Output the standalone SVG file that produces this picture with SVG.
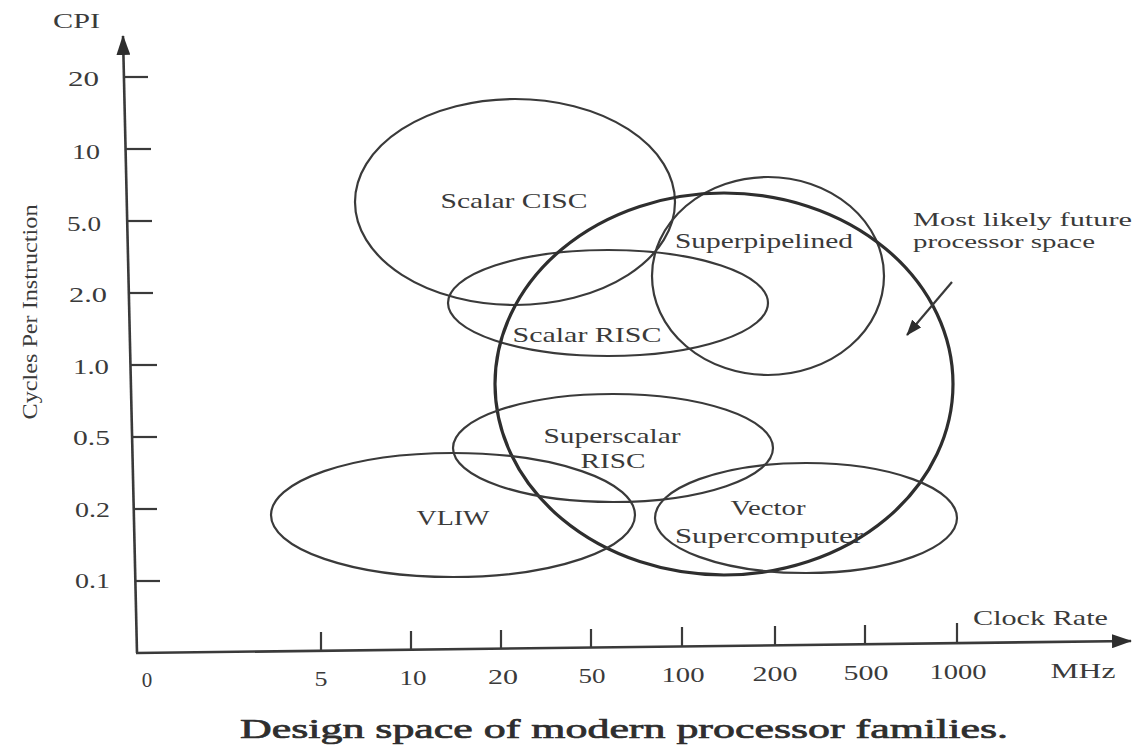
<svg xmlns="http://www.w3.org/2000/svg" width="1138" height="746" viewBox="0 0 1138 746">
<style>
  .bg{fill:#ffffff}
  .ax{stroke:#3a3a3a;stroke-width:2.6;fill:none}
  .tk{stroke:#3a3a3a;stroke-width:2.2;fill:none}
  .el{stroke:#3a3a3a;stroke-width:2.2;fill:none}
  .big{stroke:#2e2e2e;stroke-width:3.2;fill:none}
  .t{font-family:"Liberation Serif","Times New Roman",serif;fill:#3a3a3a;font-size:22px}
  .ts{font-family:"Liberation Serif","Times New Roman",serif;fill:#3a3a3a;font-size:19px}
  .tl{font-family:"Liberation Serif","Times New Roman",serif;fill:#3a3a3a;font-size:21px}
  .cap{font-family:"Liberation Serif","Times New Roman",serif;fill:#2e2e2e;font-size:28px;stroke:#2e2e2e;stroke-width:0.7}
  .m{text-anchor:middle}
  .e{text-anchor:end}
</style>
<defs>
  <marker id="axhead" viewBox="0 0 20 14" refX="19" refY="7" markerWidth="20" markerHeight="14" markerUnits="userSpaceOnUse" orient="auto">
    <path d="M0,0 L20,7 L0,14 z" fill="#2e2e2e"/>
  </marker>
  <marker id="ptr" viewBox="0 0 16 12" refX="15" refY="6" markerWidth="16" markerHeight="12" markerUnits="userSpaceOnUse" orient="auto">
    <path d="M0,0 L16,6 L0,12 z" fill="#2e2e2e"/>
  </marker>
</defs>
<rect class="bg" x="0" y="0" width="1138" height="746"/>

<g id="axes">
  <line class="ax" x1="137" y1="653" x2="123" y2="36" marker-end="url(#axhead)"/>
  <line class="ax" x1="136" y1="653" x2="1131" y2="641" marker-end="url(#axhead)"/>
  <g id="y-ticks">
    <line class="tk" x1="124" y1="77" x2="148" y2="77"/>
    <line class="tk" x1="126" y1="149" x2="151" y2="149"/>
    <line class="tk" x1="127" y1="221" x2="152" y2="221"/>
    <line class="tk" x1="129" y1="293" x2="153" y2="293"/>
    <line class="tk" x1="130" y1="365" x2="157" y2="365"/>
    <line class="tk" x1="132" y1="437" x2="157" y2="437"/>
    <line class="tk" x1="134" y1="509" x2="157" y2="509"/>
    <line class="tk" x1="135" y1="581" x2="160" y2="581"/>
  </g>
  <g id="x-ticks">
    <line class="tk" x1="321" y1="651" x2="321" y2="632"/>
    <line class="tk" x1="411" y1="650" x2="411" y2="631"/>
    <line class="tk" x1="501" y1="649" x2="501" y2="630"/>
    <line class="tk" x1="591" y1="648" x2="591" y2="629"/>
    <line class="tk" x1="682" y1="646" x2="682" y2="627"/>
    <line class="tk" x1="775" y1="645" x2="775" y2="626"/>
    <line class="tk" x1="865" y1="644" x2="865" y2="625"/>
    <line class="tk" x1="957" y1="643" x2="957" y2="623"/>
  </g>
  <text class="tl" x="53" y="28" textLength="47" lengthAdjust="spacingAndGlyphs">CPI</text>
  <text class="t m" transform="translate(37,312) rotate(-90)" textLength="215" lengthAdjust="spacingAndGlyphs">Cycles Per Instruction</text>
  <g id="y-labels">
    <text class="tl e" x="99" y="86" textLength="31" lengthAdjust="spacingAndGlyphs">20</text>
    <text class="tl e" x="100" y="159" textLength="28" lengthAdjust="spacingAndGlyphs">10</text>
    <text class="tl e" x="101" y="231" textLength="34" lengthAdjust="spacingAndGlyphs">5.0</text>
    <text class="tl e" x="107" y="302" textLength="38" lengthAdjust="spacingAndGlyphs">2.0</text>
    <text class="tl e" x="109" y="374" textLength="36" lengthAdjust="spacingAndGlyphs">1.0</text>
    <text class="tl e" x="110" y="445" textLength="37" lengthAdjust="spacingAndGlyphs">0.5</text>
    <text class="tl e" x="110" y="517" textLength="35" lengthAdjust="spacingAndGlyphs">0.2</text>
    <text class="tl e" x="110" y="588" textLength="35" lengthAdjust="spacingAndGlyphs">0.1</text>
  </g>
  <g id="x-labels">
    <text class="tl m" x="147" y="687">0</text>
    <text class="tl m" x="321" y="686" textLength="13" lengthAdjust="spacingAndGlyphs">5</text>
    <text class="tl m" x="413" y="685" textLength="27" lengthAdjust="spacingAndGlyphs">10</text>
    <text class="tl m" x="503" y="684" textLength="30" lengthAdjust="spacingAndGlyphs">20</text>
    <text class="tl m" x="592" y="683" textLength="27" lengthAdjust="spacingAndGlyphs">50</text>
    <text class="tl m" x="683" y="682" textLength="43" lengthAdjust="spacingAndGlyphs">100</text>
    <text class="tl m" x="775" y="681" textLength="45" lengthAdjust="spacingAndGlyphs">200</text>
    <text class="tl m" x="866" y="680" textLength="45" lengthAdjust="spacingAndGlyphs">500</text>
    <text class="tl m" x="958" y="679" textLength="57" lengthAdjust="spacingAndGlyphs">1000</text>
    <text class="tl m" x="1083" y="678" textLength="65" lengthAdjust="spacingAndGlyphs">MHz</text>
  </g>
  <text class="tl" x="973" y="625" textLength="135" lengthAdjust="spacingAndGlyphs">Clock Rate</text>
</g>

<g id="scalar-cisc">
  <ellipse class="el" cx="515" cy="202" rx="160" ry="103"/>
  <text class="t m" x="514" y="208" textLength="147" lengthAdjust="spacingAndGlyphs">Scalar CISC</text>
</g>
<g id="scalar-risc">
  <ellipse class="el" cx="608" cy="303" rx="160" ry="53"/>
  <text class="t m" x="587" y="342" textLength="149" lengthAdjust="spacingAndGlyphs">Scalar RISC</text>
</g>
<g id="superpipelined">
  <ellipse class="el" cx="768" cy="276" rx="116" ry="99"/>
  <text class="t m" x="764" y="248" textLength="178" lengthAdjust="spacingAndGlyphs">Superpipelined</text>
</g>
<g id="future-space">
  <ellipse class="big" cx="724" cy="384" rx="229" ry="191"/>
  <text class="ts" x="913" y="226" textLength="219" lengthAdjust="spacingAndGlyphs">Most likely future</text>
  <text class="ts" x="913" y="248" textLength="182" lengthAdjust="spacingAndGlyphs">processor space</text>
</g>
<g id="superscalar-risc">
  <ellipse class="el" cx="613" cy="448" rx="160" ry="54"/>
  <text class="t m" x="612" y="443" textLength="137" lengthAdjust="spacingAndGlyphs">Superscalar</text>
  <text class="t m" x="613" y="468" textLength="65" lengthAdjust="spacingAndGlyphs">RISC</text>
</g>
<g id="vliw">
  <ellipse class="el" cx="453" cy="515" rx="182" ry="62"/>
  <text class="t m" x="453" y="525" textLength="73" lengthAdjust="spacingAndGlyphs">VLIW</text>
</g>
<g id="vector-supercomputer">
  <ellipse class="el" cx="806" cy="518" rx="151" ry="55"/>
  <text class="t m" x="768" y="515" textLength="75" lengthAdjust="spacingAndGlyphs">Vector</text>
  <text class="t m" x="769" y="543" textLength="188" lengthAdjust="spacingAndGlyphs">Supercomputer</text>
</g>

<g id="connectors">
  <line class="tk" x1="952" y1="282" x2="907" y2="335" marker-end="url(#ptr)"/>
</g>

<text class="cap" x="240" y="738" textLength="768" lengthAdjust="spacingAndGlyphs">Design space of modern processor families.</text>
</svg>
